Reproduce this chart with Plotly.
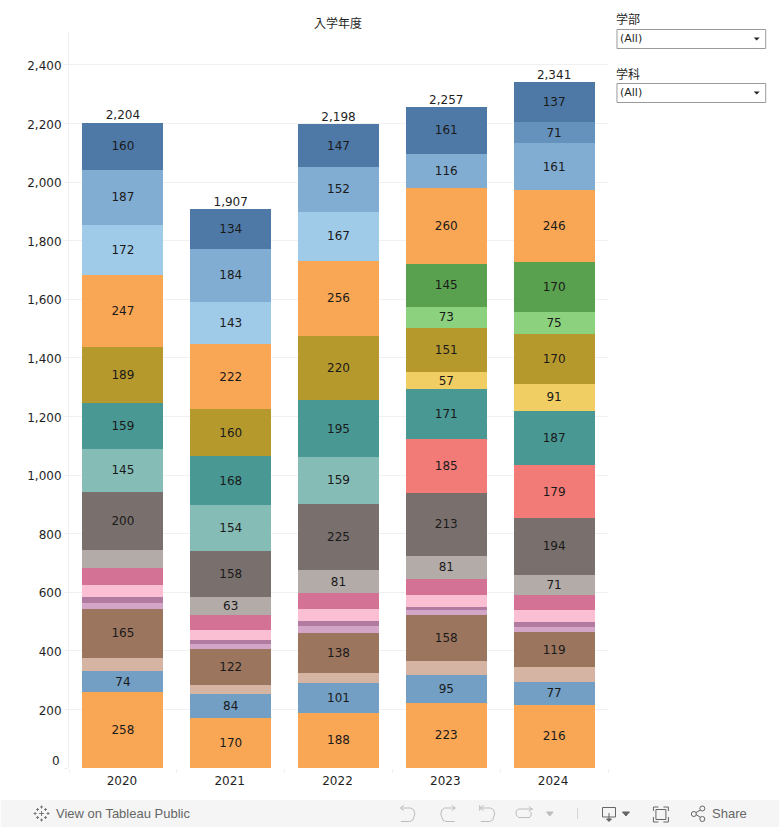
import plotly.graph_objects as go

# ---------- data (bottom of the stack first) ----------
years = [2020, 2021, 2022, 2023, 2024]
totals = [2204, 1907, 2198, 2257, 2341]

orange_a = [258, 170, 188, 223, 216]
blue_a = [74, 84, 101, 95, 77]
peach = [45, 30, 35, 46, 51]
brown = [165, 122, 138, 158, 119]
lilac = [20, 17, 24, 17, 17]
purple = [23, 13, 17, 10, 17]
pale_pink = [41, 34, 38, 40, 41]
rose = [55, 51, 55, 55, 51]
light_gray = [62, 63, 81, 81, 71]
dark_gray = [200, 158, 225, 213, 194]
red = [None, None, None, 185, 179]
light_teal = [145, 154, 159, None, None]
teal = [159, 168, 195, 171, 187]
yellow = [None, None, None, 57, 91]
olive = [189, 160, 220, 151, 170]
light_green = [None, None, None, 73, 75]
green = [None, None, None, 145, 170]
orange_b = [247, 222, 256, 260, 246]
sky = [172, 143, 167, None, None]
mid_blue = [187, 184, 152, 116, 161]
steel = [None, None, None, None, 71]
navy = [160, 134, 147, 161, 137]

series = [
    ("orange_a", orange_a, "#FAA755", True),
    ("blue_a", blue_a, "#739FC4", True),
    ("peach", peach, "#D6B4A4", False),
    ("brown", brown, "#9C755F", True),
    ("lilac", lilac, "#D3A6C7", False),
    ("purple", purple, "#B07AA1", False),
    ("pale_pink", pale_pink, "#FBBFD4", False),
    ("rose", rose, "#D37295", False),
    ("light_gray", light_gray, "#B3ABA7", True),
    ("dark_gray", dark_gray, "#79706E", True),
    ("red", red, "#F37B77", True),
    ("light_teal", light_teal, "#86BCB6", True),
    ("teal", teal, "#499894", True),
    ("yellow", yellow, "#F1CE63", True),
    ("olive", olive, "#B6992D", True),
    ("light_green", light_green, "#8CD17D", True),
    ("green", green, "#59A14F", True),
    ("orange_b", orange_b, "#FAA755", True),
    ("sky", sky, "#A0CBE8", True),
    ("mid_blue", mid_blue, "#82ADD2", True),
    ("steel", steel, "#6592BC", True),
    ("navy", navy, "#4E79A7", True),
]
unlabelled = {("light_gray", 2020)}

axis_ticks = [0, 200, 400, 600, 800, 1000, 1200, 1400, 1600, 1800, 2000, 2200, 2400]
axis_text = ["" if v == 0 else f"{v:,}" for v in axis_ticks]
axis_top = 2512

W, H = 780, 827
L, R, T, B = 68.5, 608.5, 32, 768
FONT = "DejaVu Sans"
TEXT = "#1f1f1f"
GRID = "#f0f0f0"

def mapx(x):
    return (x - L) / (R - L)

def mapy(y):
    return (B - y) / (B - T)

def path(points, close=False):
    s = "M" + " L".join(f"{mapx(x):.5f} {mapy(y):.5f}" for x, y in points)
    return s + (" Z" if close else "")

fig = go.Figure()

for name, vals, color, show in series:
    labels = [
        str(v) if (v is not None and show and (name, yr) not in unlabelled) else ""
        for v, yr in zip(vals, years)
    ]
    fig.add_trace(go.Bar(
        x=years, y=vals, name=name, marker=dict(color=color, line=dict(width=0)),
        width=0.75, text=labels, textposition="inside", insidetextanchor="middle",
        textangle=0, constraintext="none", cliponaxis=False,
        textfont=dict(family=FONT, size=12, color="#1a1a1a"),
        hoverinfo="x+y",
    ))

fig.add_trace(go.Scatter(
    x=years, y=totals, mode="text", text=[f"{t:,}" for t in totals],
    textposition="top center", textfont=dict(family=FONT, size=12, color=TEXT),
    hoverinfo="skip", cliponaxis=False,
))

shapes = []
annots = []

def label(x, y, txt, size=11, color=TEXT, anchor="left", family=FONT):
    annots.append(dict(xref="paper", yref="paper", x=mapx(x), y=mapy(y), text=txt,
                       showarrow=False, xanchor=anchor, yanchor="middle",
                       font=dict(family=family, size=size, color=color),
                       borderpad=0, borderwidth=0))

def rect(x0, y0, x1, y1, fill="rgba(0,0,0,0)", line=None, width=1, layer="above"):
    shapes.append(dict(type="rect", xref="paper", yref="paper", x0=mapx(x0), x1=mapx(x1),
                       y0=mapy(y0), y1=mapy(y1), fillcolor=fill, layer=layer,
                       line=dict(color=line or fill, width=width if line else 0)))

def poly(points, color, width=1, fill=None):
    shapes.append(dict(type="path", xref="paper", yref="paper",
                       path=path(points, close=fill is not None),
                       fillcolor=fill if fill else "rgba(0,0,0,0)",
                       line=dict(color=color, width=width)))

# zero label sits above its line
annots.append(dict(xref="paper", yref="y", x=0, y=0, xshift=-7, yshift=7, text="0",
                   showarrow=False, xanchor="right", yanchor="middle",
                   font=dict(family=FONT, size=12, color=TEXT)))

# title
label(338, 22, "入学年度", size=12, anchor="center", family="Noto Sans CJK JP")

# filters
for ty, y0, y1, cap in [(19, 29.5, 48.5, "学部"), (74, 83.5, 102.5, "学科")]:
    label(616.5, ty, cap, size=12, family="Noto Sans CJK JP")
    rect(617.5, y0, 766.5, y1, fill="#ffffff", line="#9a9a9a")
    my = (y0 + y1) / 2
    label(620.5, my - 0.5, "(All)", size=11)
    poly([(754.5, my - 1.5), (760.5, my - 1.5), (757.5, my + 1.5)], "#222222", width=0, fill="#222222")

# toolbar
rect(0, 800, 780, 827, fill="#f5f5f5", layer="below")
GR = "#666666"
LG = "#bdbdbd"
label(55, 813.5, "View on Tableau Public", size=13, color=GR, family="Liberation Sans")
label(713, 813.5, "Share", size=13, color=GR, family="Liberation Sans")

# logo: a cluster of small crosses
for cx, cy, r in [(41, 813.5, 2.5), (41, 807, 1.5), (41, 820, 1.5), (34.5, 813.5, 1.5), (47.5, 813.5, 1.5),
                  (37, 809.5, 1.5), (45, 809.5, 1.5), (37, 817.5, 1.5), (45, 817.5, 1.5)]:
    poly([(cx - r, cy), (cx + r, cy)], "#777777")
    poly([(cx, cy - r), (cx, cy + r)], "#777777")

# undo
poly([(401, 808), (411, 808), (414, 810), (415, 814), (413, 820), (410, 821.5), (401, 821.5)], LG)
poly([(404, 805.5), (400.5, 808), (404, 810.5)], LG)
# redo
poly([(455, 808), (445, 808), (442, 810), (441, 814), (443, 820), (446, 821.5), (455, 821.5)], LG)
poly([(452, 805.5), (455.5, 808), (452, 810.5)], LG)
# revert
poly([(481, 808), (491, 808), (494, 810), (495, 814), (493, 820), (490, 821.5), (481, 821.5)], LG)
poly([(484, 805.5), (480.5, 808), (484, 810.5)], LG)
poly([(480, 805), (480, 811)], LG)
# refresh
poly([(533, 809), (519, 809), (516.5, 811), (516.5, 815), (519, 817.5), (530, 817.5), (531.5, 815), (531.5, 812)], LG)
poly([(529, 806.5), (532.5, 809), (529, 811.5)], LG)
# dropdown triangle
poly([(547, 812), (553.5, 812), (550.2, 816)], LG, fill=LG)
# separator
poly([(578, 808), (578, 819)], "#d5d5d5")
# download
poly([(603, 807.5), (616, 807.5), (616, 817), (603, 817), (603, 807.5)], GR)
poly([(609.5, 813), (609.5, 821)], GR)
poly([(607, 819), (609.5, 821.5), (612, 819)], GR, fill=GR)
poly([(623, 812), (630, 812), (626.5, 816)], GR, fill=GR)
# fullscreen corners + inner box
for a, b, c in [((654, 811), (654, 807), (659, 807)), ((664, 807), (669, 807), (669, 811)),
                ((654, 817), (654, 822), (659, 822)), ((664, 822), (669, 822), (669, 817))]:
    poly([a, b, c], GR)
rect(656.5, 809.5, 666.5, 819.5, line=GR)
# share glyph
poly([(703, 809), (695, 813.5), (703, 818.5)], GR)
for cx, cy in [(703, 808.5), (694.5, 814), (703, 819)]:
    shapes.append(dict(type="circle", xref="paper", yref="paper", x0=mapx(cx - 2.5), x1=mapx(cx + 2.5),
                       y0=mapy(cy - 2.5), y1=mapy(cy + 2.5), fillcolor="#f5f5f5",
                       line=dict(color=GR, width=1)))

fig.update_layout(
    width=W, height=H, autosize=False, barmode="stack", showlegend=False,
    paper_bgcolor="#ffffff", plot_bgcolor="#ffffff",
    margin=dict(l=L, r=W - R, t=T, b=H - B, pad=0),
    font=dict(family=FONT, size=12, color=TEXT),
    shapes=shapes, annotations=annots,
    xaxis=dict(
        range=[years[0] - 0.5, years[-1] + 0.5], tickvals=years, ticktext=[str(y) for y in years],
        ticks="", showgrid=False, zeroline=False, showline=False,
        tickfont=dict(family=FONT, size=12, color=TEXT),
        minor=dict(tickvals=[y - 0.5 for y in years] + [years[-1] + 0.5],
                   ticks="outside", ticklen=4, tickcolor=GRID, showgrid=False),
        ticklabelstandoff=4, ticklabelshift=-1,
    ),
    yaxis=dict(
        range=[0, axis_top], tickvals=axis_ticks, ticktext=axis_text,
        ticks="outside", ticklen=4, tickcolor=GRID, gridcolor=GRID, gridwidth=1,
        showline=True, linecolor=GRID, zeroline=False,
        tickfont=dict(family=FONT, size=12, color=TEXT),
        ticklabelshift=1,
    ),
    hovermode="closest",
)

fig.write_html("out.html", config=dict(displayModeBar=False),
               post_script="document.body.style.margin='0';document.body.style.overflow='hidden';")
